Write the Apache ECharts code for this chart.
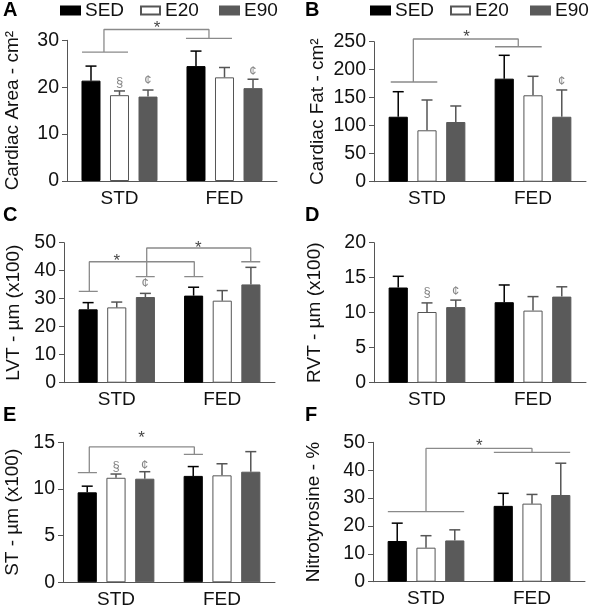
<!DOCTYPE html>
<html><head><meta charset="utf-8">
<script src="https://cdn.jsdelivr.net/npm/echarts@6/dist/echarts.min.js"></script>
<style>html,body{margin:0;padding:0;background:#fff}#c{width:590px;height:611px}</style>
</head><body><div id="c"></div>
<script>
const categories = ['STD', 'FED'];
const groupNames = ['SED', 'E20', 'E90'];

// A: Cardiac Area
const areaMean = [[21.4, 24.5], [18.3, 22.1], [18.0, 19.8]];
const areaErr = [[3.1, 3.2], [0.9, 2.1], [1.4, 1.9]];
const areaTicks = [0, 30, 10];
const areaBrackets = [[[-0.357, 27.5], [0.081, 27.5]], [[-0.148, 27.5], [-0.148, 32.3], [0.852, 32.3], [0.852, 30.4]], [[0.633, 30.4], [1.071, 30.4]]];
const areaMarks = [[0, 21.0, '§'], [0.27, 21.5, '¢'], [1.27, 23.4, '¢'], [0.357, 33.4, '*']];

// B: Cardiac Fat
const fatMean = [[116, 184], [91.8, 154.3], [106.6, 116]];
const fatErr = [[44.7, 41.7], [54.1, 33.9], [28.6, 47.8]];
const fatTicks = [0, 250, 50];
const fatBrackets = [[[-0.342, 178], [0.097, 178]], [[-0.129, 178], [-0.129, 254.8], [0.861, 254.8], [0.861, 241]], [[0.642, 241], [1.082, 241]]];
const fatMarks = [[1.27, 178.6, '¢'], [0.374, 265.5, '*']];

// C: LVT
const lvtMean = [[26.2, 31.1], [26.9, 29.3], [30.6, 35.1]];
const lvtErr = [[2.4, 3.0], [1.9, 3.6], [1.3, 6.1]];
const lvtTicks = [0, 50, 10];
const lvtBrackets = [[[-0.36, 32.6], [-0.18, 32.6]], [[-0.26, 32.6], [-0.26, 43.2], [0.735, 43.2], [0.735, 37.9]], [[0.64, 37.9], [0.82, 37.9]],
  [[0.18, 37.9], [0.36, 37.9]], [[0.284, 37.9], [0.284, 48.1], [1.27, 48.1], [1.27, 43.2]], [[1.18, 43.2], [1.36, 43.2]]];
const lvtMarks = [[0.27, 35.5, '¢'], [0.0, 44.9, '*'], [0.773, 49.5, '*']];

// D: RVT
const rvtMean = [[13.6, 11.5], [10.1, 10.3], [10.8, 12.3]];
const rvtErr = [[1.6, 2.46], [1.3, 2.0], [1.0, 1.4]];
const rvtTicks = [0, 20, 5];
const rvtBrackets = [];
const rvtMarks = [[0, 12.9, '§'], [0.27, 13.1, '¢']];

// E: ST
const stMean = [[9.64, 11.4], [11.2, 11.46], [11.1, 11.85]];
const stErr = [[0.66, 1.0], [0.4, 1.24], [0.75, 2.15]];
const stTicks = [0, 15, 5];
const stBrackets = [[[-0.36, 11.75], [-0.18, 11.75]], [[-0.252, 11.75], [-0.252, 14.5], [0.739, 14.5], [0.739, 13.7]], [[0.64, 13.7], [0.82, 13.7]]];
const stMarks = [[0, 12.4, '§'], [0.27, 12.57, '¢'], [0.24, 15.9, '*']];

// F: Nitrotyrosine
const nitMean = [[14.6, 27.2], [12.2, 28.0], [14.8, 31.1]];
const nitErr = [[6.4, 4.5], [4.3, 3.3], [3.8, 11.4]];
const nitTicks = [0, 50, 10];
const nitBrackets = [[[-0.36, 25.1], [0.36, 25.1]], [[0, 25.1], [0, 47.8], [1.0, 47.8], [1.0, 46.4]], [[0.64, 46.4], [1.36, 46.4]]];
const nitMarks = [[0.503, 50, '*']];

const panels = [
  {letter: 'A', name: 'Cardiac Area - cm²', mean: areaMean, err: areaErr, ticks: areaTicks, brackets: areaBrackets, marks: areaMarks},
  {letter: 'B', name: 'Cardiac Fat - cm²', mean: fatMean, err: fatErr, ticks: fatTicks, brackets: fatBrackets, marks: fatMarks},
  {letter: 'C', name: 'LVT - µm (x100)', mean: lvtMean, err: lvtErr, ticks: lvtTicks, brackets: lvtBrackets, marks: lvtMarks},
  {letter: 'D', name: 'RVT - µm (x100)', mean: rvtMean, err: rvtErr, ticks: rvtTicks, brackets: rvtBrackets, marks: rvtMarks},
  {letter: 'E', name: 'ST - µm (x100)', mean: stMean, err: stErr, ticks: stTicks, brackets: stBrackets, marks: stMarks},
  {letter: 'F', name: 'Nitrotyrosine - %', mean: nitMean, err: nitErr, ticks: nitTicks, brackets: nitBrackets, marks: nitMarks}
];

// layout
const layout = [
  {left: 67, top: 40.3, width: 210, height: 140.7, gap: 45, lx: 3, ly: 0},
  {left: 374, top: 41.7, width: 212, height: 140, gap: 47, lx: 305, ly: 0},
  {left: 64, top: 242.7, width: 211, height: 140, gap: 41, lx: 3, ly: 205},
  {left: 374, top: 242.7, width: 212, height: 140, gap: 50, lx: 305, ly: 205},
  {left: 63, top: 442.3, width: 212, height: 140, gap: 41, lx: 3, ly: 405},
  {left: 373, top: 442.3, width: 212, height: 139.4, gap: 50, lx: 305, ly: 405}
];
const FONT = 'Liberation Sans, Arial, sans-serif';
const AX = '#555';
const fills = ['#000000', '#ffffff', '#5a5a5a'];
const borders = ['#000000', '#555555', '#5a5a5a'];
const errColors = ['#000000', '#555555', '#555555'];
const STEP = 0.2715;

const grid = [], xAxis = [], yAxis = [], series = [], title = [];
panels.forEach((p, i) => {
  const L = layout[i];
  grid.push({left: L.left, top: L.top, width: L.width, height: L.height, containLabel: false, outerBoundsMode: 'none'});
  xAxis.push({type: 'category', gridIndex: i, data: categories,
    axisLine: {onZero: false, lineStyle: {color: AX, width: 1}},
    axisTick: {alignWithLabel: true, length: 5, lineStyle: {color: AX}},
    axisLabel: {fontSize: 19, color: '#111', fontFamily: FONT, margin: 8}});
  xAxis.push({type: 'value', gridIndex: i, min: -0.5, max: 1.5, show: false, axisLine: {onZero: false}});
  yAxis.push({type: 'value', gridIndex: i, min: p.ticks[0], max: p.ticks[1], interval: p.ticks[2],
    name: p.name, nameLocation: 'middle', nameGap: L.gap, nameRotate: 90,
    nameTextStyle: {fontSize: 19, color: '#111', fontFamily: FONT},
    splitLine: {show: false},
    axisLine: {show: true, onZero: false, lineStyle: {color: AX, width: 1}},
    axisTick: {show: true, length: 5, lineStyle: {color: AX}},
    axisLabel: {fontSize: 19.5, color: '#111', fontFamily: FONT, margin: 8}});
  title.push({text: p.letter, left: L.lx, top: L.ly, padding: 0,
    textStyle: {fontSize: 20, fontWeight: 'bold', color: '#000', fontFamily: FONT}});
  groupNames.forEach((g, k) => {
    series.push({type: 'bar', name: g, xAxisIndex: 2 * i, yAxisIndex: i, data: p.mean[k],
      barCategoryGap: '27.6%', barGap: '50%',
      itemStyle: {color: fills[k], borderColor: borders[k], borderWidth: 1}, z: 2});
  });
  const errData = [];
  groupNames.forEach((g, k) => {
    categories.forEach((c, ci) => errData.push([ci, p.mean[k][ci], p.err[k][ci], k]));
  });
  series.push({type: 'custom', xAxisIndex: 2 * i, yAxisIndex: i, data: errData, z: 3, silent: true,
    encode: {x: 0, y: 1},
    renderItem: function (params, api) {
      const ci = api.value(0), m = api.value(1), e = api.value(2), k = api.value(3);
      const band = api.size([1, 0])[0];
      const a = api.coord([ci, m]), b = api.coord([ci, m + e]);
      const x = a[0] + (k - 1) * STEP * band;
      const st = {stroke: errColors[k], lineWidth: 1.5};
      return {type: 'group', children: [
        {type: 'line', shape: {x1: x, y1: a[1], x2: x, y2: b[1]}, style: st},
        {type: 'line', shape: {x1: x - 5.5, y1: b[1], x2: x + 5.5, y2: b[1]}, style: st}
      ]};
    }});
  p.brackets.forEach(br => {
    series.push({type: 'line', xAxisIndex: 2 * i + 1, yAxisIndex: i, data: br, symbol: 'none', clip: false, silent: true,
      lineStyle: {color: '#8a8a8a', width: 1.3}, z: 4});
  });
  if (p.marks.length) {
    series.push({type: 'scatter', xAxisIndex: 2 * i + 1, yAxisIndex: i, clip: false, silent: true, symbolSize: 1,
      itemStyle: {color: 'transparent'}, z: 5,
      data: p.marks.map(m => ({value: [m[0], m[1]], text: m[2]})),
      label: {show: true, position: 'inside', formatter: d => d.data.text,
        fontFamily: FONT, fontSize: 13, color: '#666'}});
  }
});
// star styling: separate by text
series.forEach(s => {
  if (s.type === 'scatter') {
    s.data = s.data.map(d => d.text === '*' ? Object.assign({}, d, {label: {fontSize: 17, color: '#111', offset: [0, 4]}}) : d);
  }
});

const legend = [];
const legendPos = [[60, 1], [140, 1], [219, 1], [370, 1], [450, 1], [530, 1]];
legendPos.forEach((lp, j) => {
  legend.push({data: [groupNames[j % 3]], left: lp[0], top: lp[1], padding: 0, itemWidth: 19, itemHeight: 8, itemGap: 0,
    selectedMode: false, icon: 'rect',
    textStyle: {fontSize: 19, color: '#111', fontFamily: FONT}});
});

const chart = echarts.init(document.getElementById('c'), null, {renderer: 'canvas'});
chart.setOption({animation: false, backgroundColor: '#fff', title, grid, xAxis, yAxis, legend, series});
</script></body></html>
